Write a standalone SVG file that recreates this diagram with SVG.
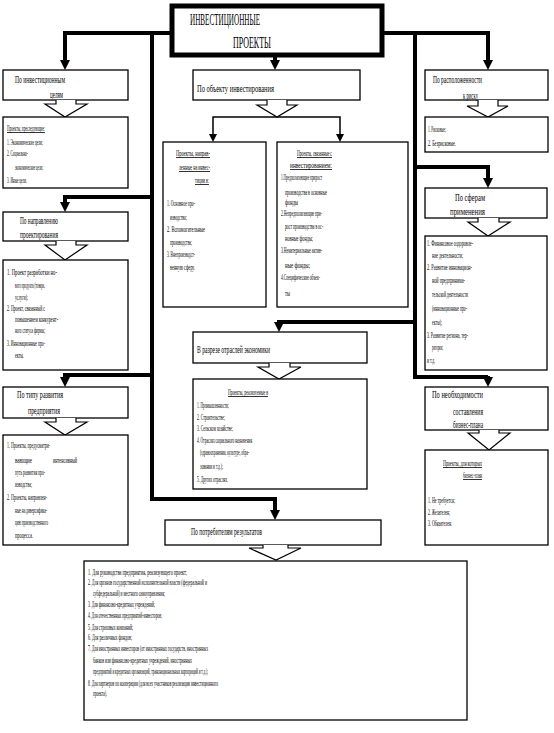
<svg xmlns="http://www.w3.org/2000/svg" width="554" height="733" viewBox="0 0 554 733">
<style>
.b{fill:#fff;stroke:#000;stroke-width:1.3}
.tb{fill:#fff;stroke:#000;stroke-width:5}
text{font-family:"Liberation Serif","Times New Roman",serif;fill:#000;transform-box:fill-box;transform-origin:0 0}
.h{font-size:10px;transform:scaleX(0.7)}
.t{font-size:8px;transform:scaleX(0.6)}
.ti{font-size:17px;transform:scaleX(0.45)}
.u{text-decoration:underline}
.k{fill:none;stroke:#000;stroke-width:4}
.n{fill:none;stroke:#000;stroke-width:1.5}
.c{fill:#fff;stroke:#000;stroke-width:1.2}
</style>
<defs>
<marker id="ah" viewBox="0 0 10 10" refX="0" refY="5" markerWidth="10" markerHeight="10" markerUnits="userSpaceOnUse" orient="auto"><path d="M0,0 L10,5 L0,10 z"/></marker>
<marker id="as" viewBox="0 0 8 8" refX="0" refY="4" markerWidth="8" markerHeight="8" markerUnits="userSpaceOnUse" orient="auto"><path d="M0,0 L8,4 L0,8 z"/></marker>
</defs>

<g id="connectors">
<path class="k" d="M172,33 H65 V60" marker-end="url(#ah)"/>
<path class="k" d="M382,33 H488 V60" marker-end="url(#ah)"/>
<path class="k" d="M275,55 V60" marker-end="url(#ah)"/>
<path class="k" d="M152,33 V499 H275 V510" marker-end="url(#ah)"/>
<path class="k" d="M152,197 H65 V202" marker-end="url(#ah)"/>
<path class="k" d="M152,375 H65 V377" marker-end="url(#ah)"/>
<path class="k" d="M415,33 V377 H488"/>
<path class="k" d="M488,376 V377" marker-end="url(#ah)"/>
<path class="k" d="M415,167 H488 V178" marker-end="url(#ah)"/>
<path class="k" d="M415,322 H279"/>
<path class="k" d="M279,320 V322" marker-end="url(#ah)"/>
<path class="n" d="M277,117 H213 V134" marker-end="url(#as)"/>
<path class="n" d="M277,117 H340 V134" marker-end="url(#as)"/>
</g>

<g id="title">
<rect class="tb" x="172" y="6" width="210" height="49"/>
<text class="ti" x="190" y="25" textLength="155.6" lengthAdjust="spacingAndGlyphs">ИНВЕСТИЦИОННЫЕ</text>
<text class="ti" x="233" y="48" textLength="84.4" lengthAdjust="spacingAndGlyphs">ПРОЕКТЫ</text>
</g>

<g id="goals">
<rect class="b" x="3" y="70" width="125" height="30"/>
<path class="c" d="M56,100 V104 H45 L65,117 L87,104 H76 V100"/>
<text class="h" x="15" y="83" textLength="71.4" lengthAdjust="spacingAndGlyphs">По инвестиционным</text>
<text class="h" x="50" y="98" textLength="18.6" lengthAdjust="spacingAndGlyphs">целям</text>
</g>
<g id="goals-list">
<rect class="b" x="3" y="117" width="125" height="71"/>
<text class="t u" x="7" y="131" textLength="63.3" lengthAdjust="spacingAndGlyphs">Проекты, преследующие:</text>
<text class="t" x="7" y="145" textLength="60" lengthAdjust="spacingAndGlyphs">1. Экономические цели;</text>
<text class="t" x="7" y="156" textLength="35" lengthAdjust="spacingAndGlyphs">2. Социально-</text>
<text class="t" x="15" y="170" textLength="46.7" lengthAdjust="spacingAndGlyphs">экономические цели;</text>
<text class="t" x="7" y="183" textLength="33.3" lengthAdjust="spacingAndGlyphs">3. Иные цели.</text>
</g>

<g id="direction">
<rect class="b" x="3" y="212" width="125" height="29"/>
<path class="c" d="M56,241 V245 H45 L65,260 L87,245 H76 V241"/>
<text class="h" x="20" y="224" textLength="54.3" lengthAdjust="spacingAndGlyphs">По направлению</text>
<text class="h" x="20" y="238" textLength="54.3" lengthAdjust="spacingAndGlyphs">проектирования</text>
</g>
<g id="direction-list">
<rect class="b" x="3" y="260" width="125" height="110"/>
<text class="t" x="7" y="275" textLength="83.3" lengthAdjust="spacingAndGlyphs">1. Проект разработки  но-</text>
<text class="t" x="15" y="288" textLength="50" lengthAdjust="spacingAndGlyphs">вого продукта (товара,</text>
<text class="t" x="15" y="300" textLength="21.7" lengthAdjust="spacingAndGlyphs">услуги);</text>
<text class="t" x="7" y="311" textLength="63.3" lengthAdjust="spacingAndGlyphs">2. Проект, связанный с</text>
<text class="t" x="15" y="322" textLength="71.7" lengthAdjust="spacingAndGlyphs">повышением конкурент-</text>
<text class="t" x="15" y="333" textLength="50" lengthAdjust="spacingAndGlyphs">ного статуса фирмы;</text>
<text class="t" x="7" y="346" textLength="63.3" lengthAdjust="spacingAndGlyphs">3. Инновационные про-</text>
<text class="t" x="15" y="358" textLength="15" lengthAdjust="spacingAndGlyphs">екты.</text>
</g>

<g id="development">
<rect class="b" x="3" y="387" width="125" height="31"/>
<path class="c" d="M56,418 V422 H45 L65,435 L87,422 H76 V418"/>
<text class="h" x="17" y="398" textLength="65.7" lengthAdjust="spacingAndGlyphs">По типу развития</text>
<text class="h" x="28" y="414" textLength="45.7" lengthAdjust="spacingAndGlyphs">предприятия</text>
</g>
<g id="development-list">
<rect class="b" x="3" y="435" width="125" height="110"/>
<text class="t" x="7" y="448" textLength="71.7" lengthAdjust="spacingAndGlyphs">1. Проекты, предусматри-</text>
<text class="t" x="15" y="463" textLength="28.3" lengthAdjust="spacingAndGlyphs">вающие</text>
<text class="t" x="53" y="463" textLength="40" lengthAdjust="spacingAndGlyphs">интенсивный</text>
<text class="t" x="15" y="475" textLength="50" lengthAdjust="spacingAndGlyphs">путь развития про-</text>
<text class="t" x="15" y="487" textLength="28.3" lengthAdjust="spacingAndGlyphs">изводства;</text>
<text class="t" x="7" y="500" textLength="66.7" lengthAdjust="spacingAndGlyphs">2. Проекты, направлен-</text>
<text class="t" x="15" y="513" textLength="53.3" lengthAdjust="spacingAndGlyphs">ные на диверсифика-</text>
<text class="t" x="15" y="525" textLength="55" lengthAdjust="spacingAndGlyphs">цию производственного</text>
<text class="t" x="15" y="538" textLength="30" lengthAdjust="spacingAndGlyphs">процесса.</text>
</g>

<g id="object">
<rect class="b" x="193" y="70" width="167" height="30"/>
<path class="c" d="M267,100 V105 H257 L277,117 L297,105 H287 V100"/>
<text class="h" x="197" y="92" textLength="110" lengthAdjust="spacingAndGlyphs">По объекту инвестирования</text>
</g>
<g id="object-a">
<rect class="b" x="163" y="142" width="103" height="165"/>
<text class="t u" x="176" y="156" textLength="56.7" lengthAdjust="spacingAndGlyphs">Проекты, направ-</text>
<text class="t u" x="179" y="170" textLength="51.7" lengthAdjust="spacingAndGlyphs">ленные на инвес-</text>
<text class="t u" x="195" y="183" textLength="23.3" lengthAdjust="spacingAndGlyphs">тиции в:</text>
<text class="t" x="167" y="206" textLength="46.7" lengthAdjust="spacingAndGlyphs">1. Основное про-</text>
<text class="t" x="170" y="220" textLength="28.3" lengthAdjust="spacingAndGlyphs">изводство;</text>
<text class="t" x="167" y="232" textLength="63.3" lengthAdjust="spacingAndGlyphs">2. Вспомогательные</text>
<text class="t" x="170" y="245" textLength="36.7" lengthAdjust="spacingAndGlyphs">производства;</text>
<text class="t" x="167" y="257" textLength="46.7" lengthAdjust="spacingAndGlyphs">3. Внепроизводст-</text>
<text class="t" x="170" y="270" textLength="41.7" lengthAdjust="spacingAndGlyphs">венную сферу.</text>
</g>
<g id="object-b">
<rect class="b" x="277" y="142" width="131" height="165"/>
<text class="t u" x="297" y="156" textLength="58.3" lengthAdjust="spacingAndGlyphs">Проекты, связанные с</text>
<text class="t u" x="290" y="168" textLength="70" lengthAdjust="spacingAndGlyphs">инвестированием:</text>
<text class="t" x="281" y="180" textLength="68.3" lengthAdjust="spacingAndGlyphs">1.Предполагающие прирост</text>
<text class="t" x="285" y="195" textLength="70" lengthAdjust="spacingAndGlyphs">производства в основные</text>
<text class="t" x="285" y="205" textLength="21.7" lengthAdjust="spacingAndGlyphs">фонды</text>
<text class="t" x="281" y="216" textLength="68.3" lengthAdjust="spacingAndGlyphs">2.Непредполагающие при-</text>
<text class="t" x="285" y="229" textLength="63.3" lengthAdjust="spacingAndGlyphs">рост производства в ос-</text>
<text class="t" x="285" y="241" textLength="46.7" lengthAdjust="spacingAndGlyphs">новные фонды;</text>
<text class="t" x="281" y="253" textLength="68.3" lengthAdjust="spacingAndGlyphs">3.Нематериальные актив-</text>
<text class="t" x="285" y="268" textLength="41.7" lengthAdjust="spacingAndGlyphs">ные фонды;</text>
<text class="t" x="281" y="280" textLength="65" lengthAdjust="spacingAndGlyphs">4.Специфические объек-</text>
<text class="t" x="285" y="296" textLength="8.3" lengthAdjust="spacingAndGlyphs">ты</text>
</g>

<g id="sectors">
<rect class="b" x="193" y="332" width="174" height="31"/>
<path class="c" d="M269,363 V367 H258 L279,379 L301,367 H290 V363"/>
<text class="h" x="197" y="353" textLength="104.3" lengthAdjust="spacingAndGlyphs">В разрезе отраслей экономики</text>
</g>
<g id="sectors-list">
<rect class="b" x="193" y="379" width="174" height="110"/>
<text class="t u" x="228" y="395" textLength="66.7" lengthAdjust="spacingAndGlyphs">Проекты, реализуемые в</text>
<text class="t" x="197" y="408" textLength="53.3" lengthAdjust="spacingAndGlyphs">1. Промышленности;</text>
<text class="t" x="197" y="420" textLength="46.7" lengthAdjust="spacingAndGlyphs">2. Строительстве;</text>
<text class="t" x="197" y="431" textLength="60" lengthAdjust="spacingAndGlyphs">3. Сельском хозяйстве;</text>
<text class="t" x="197" y="443" textLength="91.7" lengthAdjust="spacingAndGlyphs">4. Отраслях социального назначения</text>
<text class="t" x="200" y="455" textLength="81.7" lengthAdjust="spacingAndGlyphs">(здравоохранении, культуре, обра-</text>
<text class="t" x="200" y="469" textLength="38.3" lengthAdjust="spacingAndGlyphs">зовании и т.д.);</text>
<text class="t" x="197" y="482" textLength="51.7" lengthAdjust="spacingAndGlyphs">5. Других отраслях.</text>
</g>

<g id="users">
<rect class="b" x="165" y="520" width="216" height="25"/>
<path class="c" d="M263,545 V548 H249 L276,560 L301,548 H288 V545"/>
<text class="h" x="191" y="535" textLength="101.4" lengthAdjust="spacingAndGlyphs">По потребителям результатов</text>
</g>
<g id="users-list">
<rect class="b" x="84" y="561" width="383" height="159"/>
<text class="t" x="88" y="575" textLength="165" lengthAdjust="spacingAndGlyphs">1. Для руководства предприятия, реализующего проект;</text>
<text class="t" x="88" y="585" textLength="198.3" lengthAdjust="spacingAndGlyphs">2. Для органов государственной исполнительной власти (федеральной и</text>
<text class="t" x="93" y="596" textLength="120" lengthAdjust="spacingAndGlyphs">субфедеральной) и местного самоуправления;</text>
<text class="t" x="88" y="607" textLength="111.7" lengthAdjust="spacingAndGlyphs">3. Для финансово-кредитных учреждений;</text>
<text class="t" x="88" y="618" textLength="123.3" lengthAdjust="spacingAndGlyphs">4. Для отечественных предприятий-инвесторов;</text>
<text class="t" x="88" y="630" textLength="75" lengthAdjust="spacingAndGlyphs">5. Для страховых компаний;</text>
<text class="t" x="88" y="640" textLength="73.3" lengthAdjust="spacingAndGlyphs">6. Для различных фондов;</text>
<text class="t" x="88" y="651" textLength="200" lengthAdjust="spacingAndGlyphs">7. Для иностранных инвесторов (от иностранных государств, иностранных</text>
<text class="t" x="93" y="663" textLength="165" lengthAdjust="spacingAndGlyphs">банков или финансово-кредитных учреждений, иностранных</text>
<text class="t" x="93" y="674" textLength="191.7" lengthAdjust="spacingAndGlyphs">предприятий и кредитных организаций, транснациональных корпораций и т.д.);</text>
<text class="t" x="88" y="686" textLength="216.7" lengthAdjust="spacingAndGlyphs">8. Для партнеров по кооперации (для всех участников реализации инвестиционного</text>
<text class="t" x="93" y="696" textLength="23.3" lengthAdjust="spacingAndGlyphs">проекта).</text>
</g>

<g id="risk">
<rect class="b" x="425" y="70" width="123" height="30"/>
<path class="c" d="M478,100 V106 H467 L488,117 L508,106 H498 V100"/>
<text class="h" x="433" y="83" textLength="70" lengthAdjust="spacingAndGlyphs">По расположенности</text>
<text class="h" x="463" y="99" textLength="21.4" lengthAdjust="spacingAndGlyphs">к риску</text>
</g>
<g id="risk-list">
<rect class="b" x="425" y="117" width="123" height="35"/>
<text class="t" x="428" y="132" textLength="30" lengthAdjust="spacingAndGlyphs">1. Рисковые;</text>
<text class="t" x="428" y="146" textLength="46.7" lengthAdjust="spacingAndGlyphs">2. Безрисковые.</text>
</g>

<g id="spheres">
<rect class="b" x="425" y="188" width="122" height="30"/>
<path class="c" d="M478,218 V222 H468 L488,236 L510,222 H499 V218"/>
<text class="h" x="455" y="201" textLength="42.9" lengthAdjust="spacingAndGlyphs">По сферам</text>
<text class="h" x="450" y="215" textLength="50" lengthAdjust="spacingAndGlyphs">применения</text>
</g>
<g id="spheres-list">
<rect class="b" x="425" y="236" width="122" height="134"/>
<text class="t" x="427" y="246" textLength="76.7" lengthAdjust="spacingAndGlyphs">1. Финансовое оздоровле-</text>
<text class="t" x="432" y="258" textLength="51.7" lengthAdjust="spacingAndGlyphs">ние деятельности;</text>
<text class="t" x="427" y="270" textLength="75" lengthAdjust="spacingAndGlyphs">2. Развитие инновацион-</text>
<text class="t" x="432" y="283" textLength="55" lengthAdjust="spacingAndGlyphs">ной предпринима-</text>
<text class="t" x="432" y="297" textLength="60" lengthAdjust="spacingAndGlyphs">тельской деятельности</text>
<text class="t" x="432" y="311" textLength="58.3" lengthAdjust="spacingAndGlyphs">(инновационные про-</text>
<text class="t" x="432" y="325" textLength="16.7" lengthAdjust="spacingAndGlyphs">екты);</text>
<text class="t" x="427" y="338" textLength="68.3" lengthAdjust="spacingAndGlyphs">3. Развитие региона, тер-</text>
<text class="t" x="432" y="350" textLength="18.3" lengthAdjust="spacingAndGlyphs">ритории;</text>
<text class="t" x="427" y="363" textLength="13.3" lengthAdjust="spacingAndGlyphs">и т.д.</text>
</g>

<g id="plan">
<rect class="b" x="425" y="387" width="123" height="43"/>
<path class="c" d="M479,430 V433 H468 L489,450 L510,433 H499 V430"/>
<text class="h" x="432" y="398" textLength="72.9" lengthAdjust="spacingAndGlyphs">По необходимости</text>
<text class="h" x="453" y="415" textLength="42.9" lengthAdjust="spacingAndGlyphs">составления</text>
<text class="h" x="453" y="428" textLength="42.9" lengthAdjust="spacingAndGlyphs">бизнес-плана</text>
</g>
<g id="plan-list">
<rect class="b" x="425" y="450" width="123" height="95"/>
<text class="t u" x="443" y="466" textLength="65" lengthAdjust="spacingAndGlyphs">Проекты, для которых</text>
<text class="t u" x="463" y="478" textLength="31.7" lengthAdjust="spacingAndGlyphs">бизнес-план</text>
<text class="t" x="428" y="503" textLength="45" lengthAdjust="spacingAndGlyphs">1. Не требуется;</text>
<text class="t" x="428" y="515" textLength="36.7" lengthAdjust="spacingAndGlyphs">2. Желателен;</text>
<text class="t" x="428" y="526" textLength="40" lengthAdjust="spacingAndGlyphs">3. Обязателен.</text>
</g>
</svg>
